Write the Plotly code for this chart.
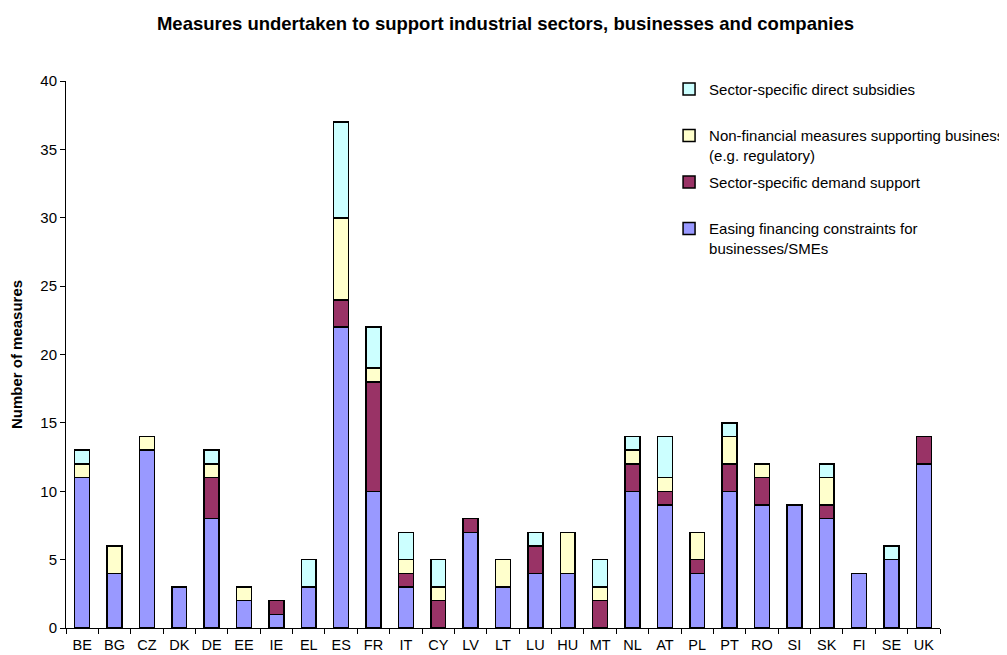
import plotly.graph_objects as go

countries = ["BE", "BG", "CZ", "DK", "DE", "EE", "IE", "EL", "ES", "FR", "IT", "CY", "LV", "LT",
             "LU", "HU", "MT", "NL", "AT", "PL", "PT", "RO", "SI", "SK", "FI", "SE", "UK"]
easing = [11, 4, 13, 3, 8, 2, 1, 3, 22, 10, 3, 0, 7, 3, 4, 4, 0, 10, 9, 4, 10, 9, 9, 8, 4, 5, 12]
demand = [0, 0, 0, 0, 3, 0, 1, 0, 2, 8, 1, 2, 1, 0, 2, 0, 2, 2, 1, 1, 2, 2, 0, 1, 0, 0, 2]
nonfin = [1, 2, 1, 0, 1, 1, 0, 0, 6, 1, 1, 1, 0, 2, 0, 3, 1, 1, 1, 2, 2, 1, 0, 2, 0, 0, 0]
subsid = [1, 0, 0, 0, 1, 0, 0, 2, 7, 3, 2, 2, 0, 0, 1, 0, 2, 1, 3, 0, 1, 0, 0, 1, 0, 1, 0]

series = [
    ("Easing financing constraints for<br>businesses/SMEs", easing, "#9999FF"),
    ("Sector-specific demand support<br> ", demand, "#993366"),
    ("Non-financial measures supporting business<br>(e.g. regulatory)", nonfin, "#FFFFCC"),
    ("Sector-specific direct subsidies<br> ", subsid, "#CCFFFF"),
]

font = "Arial, Liberation Sans, sans-serif"
fig = go.Figure()
for i, (name, vals, col) in enumerate(series):
    fig.add_trace(go.Bar(x=countries, y=vals, name=name, marker_color=col,
                         legendgroup="g%d" % i, legendrank=100 - i,
                         marker_line_color="black", marker_line_width=1.5))

fig.update_layout(
    barmode="stack",
    bargap=0.54,
    width=1007, height=655,
    margin=dict(l=58, r=75, t=73, b=35, autoexpand=False),
    paper_bgcolor="white", plot_bgcolor="white",
    font=dict(family=font, size=14, color="black"),
    title=dict(text="<b>Measures undertaken to support industrial sectors, businesses and companies</b>",
               x=0.494, xanchor="center", y=0.977, yanchor="middle",
               font=dict(size=18.5, family=font, color="black")),
    legend=dict(x=0.690, xanchor="left", y=1.015, yanchor="top", traceorder="grouped",
                valign="top", itemwidth=30, font=dict(size=15, family=font),
                tracegroupgap=4.5, bgcolor="rgba(0,0,0,0)"),
    showlegend=True,
)
fig.update_xaxes(showline=True, linecolor="black", linewidth=1, ticks="outside",
                 tickson="boundaries", ticklen=5, tickcolor="black", showgrid=False,
                 automargin=False, ticklabelstandoff=4, tickfont=dict(size=14.5))
fig.update_yaxes(range=[0, 40], dtick=5, showline=True, linecolor="black", linewidth=1,
                 ticks="outside", ticklen=5, tickcolor="black", showgrid=False, zeroline=False,
                 automargin=False, tickfont=dict(size=15),
                 title=dict(text="<b>Number of measures</b>", font=dict(size=15, family=font), standoff=14))

fig.write_html("out.html")
